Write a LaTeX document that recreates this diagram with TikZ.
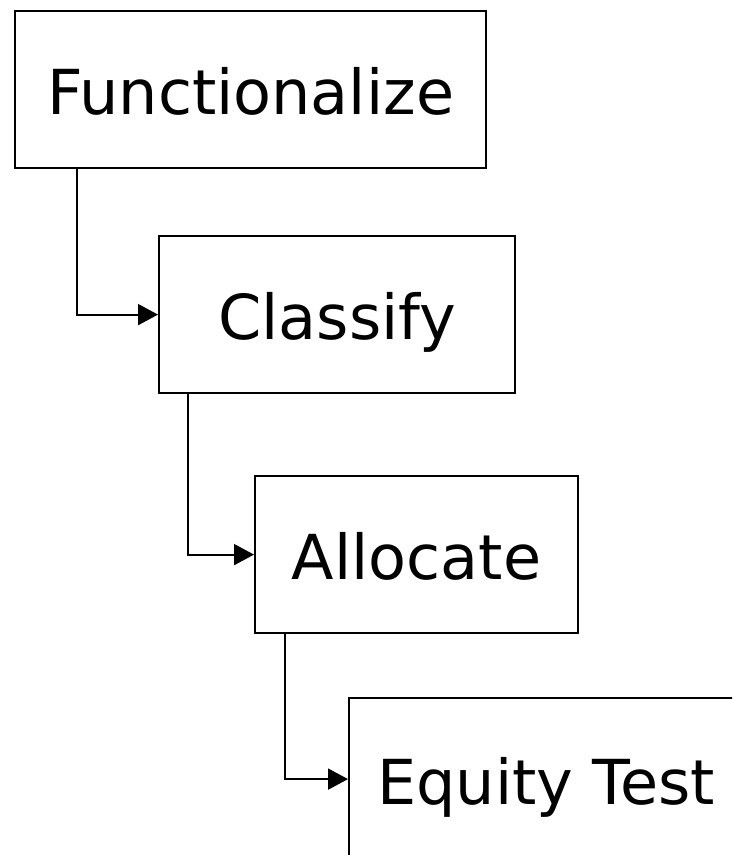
\documentclass[tikz,border=0pt]{standalone}
\usepackage{fontspec}
\setmainfont{DejaVu Sans}
\usetikzlibrary{arrows.meta,calc}
\tikzset{
  stepbox/.style={draw=black, line width=2.2pt, anchor=north west, inner sep=0pt,
    font=\fontsize{62}{70}\selectfont, text height=50pt, text depth=0pt},
  link/.style={line width=2pt, -{Triangle[length=20pt,width=21pt]}}
}
\begin{document}
\begin{tikzpicture}[x=1pt,y=1pt]
\useasboundingbox (0,0) rectangle (732,-855);
\clip (0,0) rectangle (732,-855);
\node[stepbox, minimum width=471pt, minimum height=157pt] (f) at (14,-10) {Functionalize};
\node[stepbox, minimum width=356pt, minimum height=157pt] (c) at (158,-235) {Classify};
\node[stepbox, minimum width=323pt, minimum height=157pt] (a) at (254,-475) {Allocate};
\node[stepbox, minimum width=394pt, minimum height=162pt] (e) at (348,-697) {Equity Test};
\draw[link] ($(f.south west)+(63,0)$) |- (c.west);
\draw[link] ($(c.south west)+(30,0)$) |- (a.west);
\draw[link] ($(a.south west)+(31,0)$) |- (e.west);
\end{tikzpicture}
\end{document}
